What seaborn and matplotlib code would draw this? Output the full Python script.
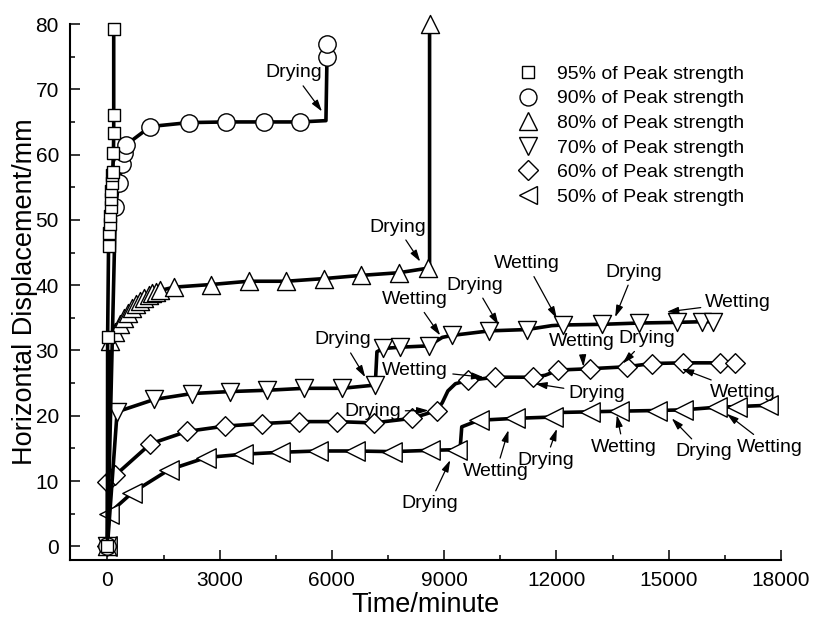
import matplotlib
matplotlib.use("Agg")
import matplotlib.pyplot as plt
import seaborn as sns
from matplotlib.lines import Line2D
from matplotlib.ticker import MultipleLocator

sns.set_theme(style="ticks", rc={
    "text.color": "black", "axes.labelcolor": "black", "xtick.color": "black",
    "ytick.color": "black", "axes.edgecolor": "black"})
plt.rcParams["font.family"] = ["Liberation Sans", "DejaVu Sans"]

labels = ["95% of Peak strength", "90% of Peak strength", "80% of Peak strength",
          "70% of Peak strength", "60% of Peak strength", "50% of Peak strength"]

# 95%
t95 = [0, 5, 30, 55, 65, 75, 85, 95, 105, 115, 125, 140, 160, 168, 168, 168]
d95 = [0, 32, 46, 48, 49.3, 50.6, 51.9, 53.2, 54.4, 55.6, 56.8, 57.4, 60.2, 63.3, 66.1, 79.2]
k95 = [1] * 16
# 90%
t90 = [0, 214, 303, 392, 437, 499, 1149, 2172, 3170, 4175, 5155, 5840, 5868, 5868]
d90 = [0, 52.0, 55.6, 58.6, 60.2, 61.5, 64.3, 64.9, 65.0, 65.0, 65.0, 65.2, 74.9, 76.9]
k90 = [1, 1, 1, 1, 1, 1, 1, 1, 1, 1, 1, 0, 1, 1]
# 80%
t80 = [0, 60, 214, 330, 440, 550, 660, 770, 880, 990, 1100, 1200, 1310, 1416, 1790,
       2778, 3775, 4781, 5777, 6784, 7781, 8566, 8610, 8610]
d80 = [0, 31.5, 32.8, 34.0, 35.0, 35.8, 36.5, 37.1, 37.6, 38.1, 38.5, 38.8, 39.0, 39.2, 39.7,
       40.1, 40.6, 40.6, 41.0, 41.5, 41.9, 42.6, 42.8, 80.0]
k80 = [1] * 22 + [0, 1]
# 70%
t70 = [0, 259, 1255, 2262, 3267, 4265, 5262, 6268, 7158, 7203, 7372, 7826, 8582, 8950,
       9207, 10211, 11210, 11877, 12188, 13213, 14218, 15217, 15884, 16195]
d70 = [0, 20.6, 22.5, 23.4, 23.7, 23.9, 24.2, 24.2, 24.7, 29.8, 30.3, 30.5, 30.7, 32.0,
       32.3, 33.0, 33.2, 33.8, 33.9, 34.0, 34.2, 34.3, 34.4, 34.4]
k70 = [1] * 9 + [0] + [1] * 3 + [0] + [1] * 3 + [0] + [1] * 6
# 60%
t60 = [0, 0, 214, 1150, 2129, 3129, 4132, 5128, 6135, 7113, 8138, 8806, 8950, 9100, 9300,
       9624, 10364, 11387, 11700, 12055, 12901, 13881, 14549, 15377, 16373, 16774]
d60 = [0, 9.9, 10.9, 15.7, 17.6, 18.4, 18.8, 19.1, 19.1, 18.9, 19.6, 20.8, 22.0, 23.8, 24.9,
       25.4, 25.9, 25.9, 26.2, 27.0, 27.2, 27.5, 28.0, 28.1, 28.1, 28.1]
k60 = [1] * 12 + [0, 0, 0] + [1] * 3 + [0] + [1] * 7
# 50%
t50 = [0, 35, 660, 1637, 2640, 3627, 4621, 5617, 6624, 7604, 8627, 9341, 9430, 9470,
       9918, 10898, 11904, 12100, 12901, 13684, 14683, 15393, 16285, 16819, 17664]
d50 = [0, 5.0, 8.2, 11.7, 13.6, 14.1, 14.4, 14.6, 14.6, 14.5, 14.7, 14.8, 15.2, 18.3,
       19.3, 19.6, 19.8, 20.5, 20.6, 20.7, 20.8, 20.9, 21.3, 21.4, 21.6]
k50 = [1] * 12 + [0, 0] + [1] * 3 + [0] + [1] * 7

series = [(t95, d95, k95, "s", 9), (t90, d90, k90, "o", 12.5), (t80, d80, k80, "^", 13),
          (t70, d70, k70, "v", 13), (t60, d60, k60, "D", 10), (t50, d50, k50, "<", 14)]
legend_ms = [8.4, 12.2, 13, 13, 10, 13]

# annotations: label, text x, text y, tip x, tip y
ann_label = ["Drying", "Drying", "Drying", "Wetting", "Drying", "Wetting", "Drying", "Wetting",
             "Drying", "Wetting", "Drying", "Wetting", "Drying", "Wetting",
             "Drying", "Wetting", "Drying", "Wetting", "Drying", "Wetting"]
ann_tx = [4976, 7746, 6290, 8227, 9829, 11210, 14058, 16862,
          7078, 8227, 13080, 12679, 14415, 16995,
          8609, 10390, 11718, 13790, 15946, 17709]
ann_ty = [72.5, 48.9, 31.6, 37.8, 40.0, 43.3, 42.0, 37.3,
          20.7, 27.0, 23.4, 31.3, 31.8, 23.6,
          6.5, 11.5, 13.2, 15.2, 14.5, 15.2]
ann_px = [5735, 8360, 6891, 8894, 10452, 12011, 13569, 14950,
          8582, 10051, 11432, 12722, 13774, 15350,
          9162, 10719, 12012, 13614, 15083, 16552]
ann_py = [66.6, 43.6, 25.9, 32.3, 33.9, 34.9, 35.1, 35.9,
          20.8, 25.9, 24.9, 27.5, 28.0, 27.2,
          13.2, 17.8, 18.0, 20.1, 19.6, 20.3]

fig = plt.figure(figsize=(8.16, 6.19), dpi=100)
ax = fig.add_axes([0.0858, 0.0953, 0.8712, 0.8659])

n = len(series)
for i, (t, d, k, m, ms) in reversed(list(enumerate(series))):
    z = 10 + 2 * (n - i)
    sns.lineplot(x=t, y=d, sort=False, estimator=None, color="black", linewidth=2.6,
                 ax=ax, zorder=z)
    tm = [a for a, f in zip(t, k) if f]
    dm = [b for b, f in zip(d, k) if f]
    sns.scatterplot(x=tm, y=dm, marker=m, s=ms ** 2, color="white", edgecolor="black",
                    linewidth=1.0, ax=ax, zorder=z + 1, clip_on=False)

for lab, tx, ty, px, py in zip(ann_label, ann_tx, ann_ty, ann_px, ann_py):
    ax.annotate(lab, xy=(px, py), xytext=(tx, ty), ha="center", va="center", fontsize=14,
                zorder=40,
                arrowprops=dict(arrowstyle="-|>,head_length=0.5,head_width=0.15",
                                mutation_scale=14, color="black", lw=0.9,
                                shrinkA=1, shrinkB=0))

handles = [Line2D([], [], marker=s[3], ls="none", mfc="white", mec="black", mew=1.0, ms=lm)
           for s, lm in zip(series, legend_ms)]
ax.legend(handles, labels, loc="upper left", bbox_to_anchor=(0.611, 0.923),
          bbox_transform=fig.transFigure, frameon=False, fontsize=14,
          handlelength=1.2, handletextpad=0.88, labelspacing=0.36, borderpad=0.4)

ax.set_xlim(-1000, 18000)
ax.set_ylim(-2.1, 80)
ax.xaxis.set_major_locator(MultipleLocator(3000))
ax.xaxis.set_minor_locator(MultipleLocator(1500))
ax.yaxis.set_major_locator(MultipleLocator(10))
ax.yaxis.set_minor_locator(MultipleLocator(5))
ax.tick_params(which="major", direction="in", length=7, width=1.1, labelsize=15, pad=8)
ax.tick_params(which="minor", direction="in", length=3.5, width=1.1)
for sp in ["top", "right"]:
    ax.spines[sp].set_visible(False)
for sp in ["left", "bottom"]:
    ax.spines[sp].set_linewidth(1.5)
ax.set_xlabel("Time/minute", fontsize=19.5, labelpad=1)
ax.set_ylabel("Horizontal Displacement/mm", fontsize=19.5, labelpad=1)
ax.yaxis.set_label_coords(-0.045, 0.5)

fig.savefig("out.png", dpi=100, facecolor="white")
